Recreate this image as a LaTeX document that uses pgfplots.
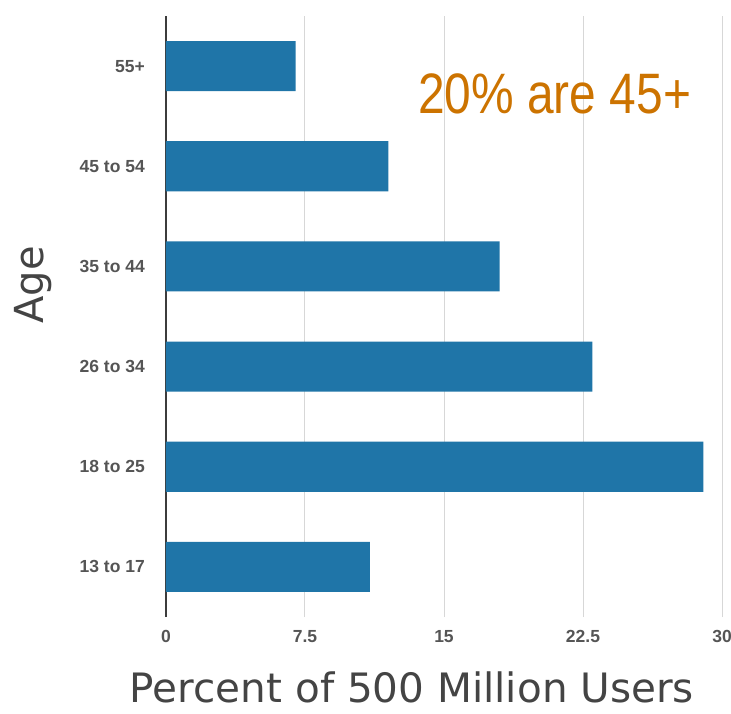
\documentclass[border=0pt]{standalone}
\usepackage{fontspec}
\setmainfont{Liberation Sans}
\newfontfamily\titlefont{DejaVu Sans}
\newfontfamily\narrowfont[FakeStretch=0.84]{Liberation Sans}
\usepackage{pgfplots}
\pgfplotsset{compat=1.18}
\definecolor{barblue}{RGB}{31,117,168}
\definecolor{annot}{RGB}{204,115,0}
\definecolor{ticktext}{RGB}{85,85,85}
\definecolor{titletext}{RGB}{68,68,68}
\definecolor{gridgray}{RGB}{215,215,215}
\definecolor{axisdark}{RGB}{60,60,60}
\begin{document}
\begin{tikzpicture}
\path[use as bounding box] (-166pt,-96pt) rectangle (565pt,617pt);
\begin{axis}[
  scale only axis, width=556pt, height=601pt,
  at={(0,0)}, anchor=south west,
  xbar, bar width=0.5,
  xmin=0, xmax=30, ymin=-0.5, ymax=5.5,
  axis line style={draw=none},
  major tick length=0pt,
  xtick={7.5,15,22.5,30}, xticklabels={7.5,15,22.5,30},
  extra x ticks={0}, extra x tick labels={0},
  extra x tick style={grid style={axisdark, line width=1.2pt}},
  xmajorgrids, grid style={gridgray, line width=1pt},
  ytick={0,...,5},
  yticklabels={13 to 17,18 to 25,26 to 34,35 to 44,45 to 54,55+},
  /pgf/number format/assume math mode=true,
  yticklabel style={font=\bfseries\fontsize{17.5}{17.5}\selectfont, text=ticktext, anchor=east, inner sep=0pt, xshift=-21pt},
  xticklabel style={font=\bfseries\fontsize{17.5}{17.5}\selectfont, text=ticktext, anchor=north, inner sep=0pt, yshift=-13pt},
]
\addplot[fill=barblue, draw=none] coordinates {(11,0) (29,1) (23,2) (18,3) (12,4) (7,5)};
\end{axis}
\node[rotate=90, inner sep=0pt, font=\titlefont\fontsize{40}{40}\selectfont, text=titletext] at (-133pt,332pt) {Age};
\node[anchor=base, inner sep=0pt, text depth=0pt, font=\titlefont\fontsize{40.5}{40.5}\selectfont, text=titletext] at (246pt,-85pt) {Percent of 500 Million Users};
\node[anchor=base west, inner sep=0pt, font=\narrowfont\fontsize{57}{57}\selectfont, text=annot] at (252pt,503pt) {20\% are 45+};
\end{tikzpicture}
\end{document}
